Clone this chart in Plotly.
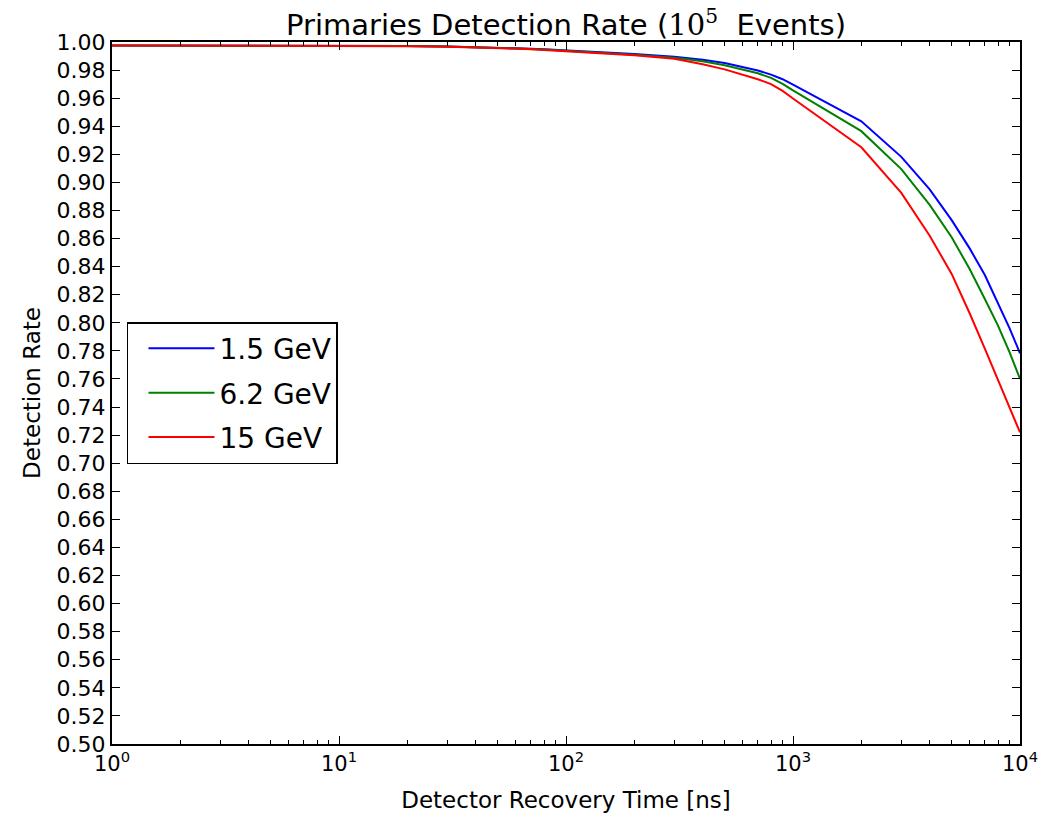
import plotly.graph_objects as go

recovery_time_ns = [1, 2, 3, 4, 5, 6, 7, 8, 9, 10,
                    20, 30, 40, 50, 60, 70, 80, 90, 100,
                    200, 300, 400, 500, 600, 700, 800, 900, 1000,
                    2000, 3000, 4000, 5000, 6000, 7000, 8000, 9000, 10000]

rate_1p5 = [0.9975, 0.9975, 0.9975, 0.9975, 0.9975, 0.9975, 0.9974, 0.9974, 0.9974, 0.9973,
            0.9971, 0.9968, 0.9964, 0.9960, 0.9956, 0.9952, 0.9948, 0.9944, 0.9940,
            0.9915, 0.9895, 0.9873, 0.9850, 0.9823, 0.9797, 0.9768, 0.9735, 0.9697,
            0.9435, 0.9182, 0.8950, 0.8731, 0.8530, 0.8340, 0.8136, 0.7960, 0.7783]
rate_6p2 = [0.9975, 0.9975, 0.9975, 0.9975, 0.9975, 0.9975, 0.9974, 0.9974, 0.9974, 0.9973,
            0.9971, 0.9968, 0.9964, 0.9960, 0.9955, 0.9951, 0.9946, 0.9942, 0.9938,
            0.9910, 0.9888, 0.9863, 0.9835, 0.9806, 0.9777, 0.9745, 0.9702, 0.9655,
            0.9365, 0.9095, 0.8840, 0.8610, 0.8383, 0.8170, 0.7980, 0.7790, 0.7600]
rate_15 = [0.9975, 0.9975, 0.9975, 0.9975, 0.9975, 0.9975, 0.9974, 0.9974, 0.9974, 0.9973,
           0.9970, 0.9966, 0.9962, 0.9958, 0.9953, 0.9948, 0.9943, 0.9938, 0.9933,
           0.9905, 0.9880, 0.9842, 0.9805, 0.9770, 0.9735, 0.9700, 0.9652, 0.9598,
           0.9250, 0.8925, 0.8620, 0.8348, 0.8068, 0.7816, 0.7590, 0.7400, 0.7220]

series_names = ["1.5 GeV", "6.2 GeV", "15 GeV"]
series_colors = ["#0000ff", "#008000", "#ff0000"]
series_values = [rate_1p5, rate_6p2, rate_15]

x_tick_vals = [1, 10, 100, 1000, 10000]
x_tick_text = ["10<sup>0</sup>", "10<sup>1</sup>", "10<sup>2</sup>", "10<sup>3</sup>", "10<sup>4</sup>"]
y_tick_vals = [round(0.50 + 0.02 * i, 2) for i in range(26)]
y_tick_text = [f"{v:.2f}" for v in y_tick_vals]

FONT = "DejaVu Sans"

fig = go.Figure()
for name, color, vals in zip(series_names, series_colors, series_values):
    fig.add_trace(go.Scatter(x=recovery_time_ns, y=vals, mode="lines", name=name,
                             legendgroup=name,
                             line=dict(color=color, width=2)))

fig.update_layout(
    width=1044, height=815,
    margin=dict(l=104, r=32, t=34, b=79),
    paper_bgcolor="white", plot_bgcolor="white",
    font=dict(family=FONT, size=22, color="black"),
    title=dict(text="Primaries Detection Rate (<span style='font-family:DejaVu Serif'>10<sup>5</sup></span>  Events)",
               x=0.5, xref="paper", xanchor="center",
               y=1 - 17 / 815, yref="container", yanchor="middle",
               font=dict(size=29, family=FONT)),
    showlegend=True,
    legend=dict(x=0.0165, y=0.601, xanchor="left", yanchor="top",
                bgcolor="white", bordercolor="black", borderwidth=1.5,
                font=dict(size=28, family=FONT),
                itemwidth=66, tracegroupgap=5, indentation=15),
)

fig.update_xaxes(
    type="log", range=[0, 4],
    tickvals=x_tick_vals, ticktext=x_tick_text,
    ticks="inside", ticklen=8, tickwidth=1, tickcolor="black",
    minor=dict(ticks="inside", ticklen=4, tickcolor="black", dtick="D1", showgrid=False),
    showline=True, linecolor="black", linewidth=2, mirror="ticks",
    showgrid=False, zeroline=False,
    tickfont=dict(size=21, family=FONT),
    title=dict(text="Detector Recovery Time [ns]", font=dict(size=23), standoff=17),
)
fig.update_yaxes(
    range=[0.50, 1.00],
    tickvals=y_tick_vals, ticktext=y_tick_text,
    ticks="inside", ticklen=8, tickwidth=1, tickcolor="black",
    showline=True, linecolor="black", linewidth=2, mirror="ticks",
    showgrid=False, zeroline=False,
    tickfont=dict(size=22, family=FONT),
    title=dict(text="Detection Rate", font=dict(size=23), standoff=10),
)

fig.write_html("out.html")
